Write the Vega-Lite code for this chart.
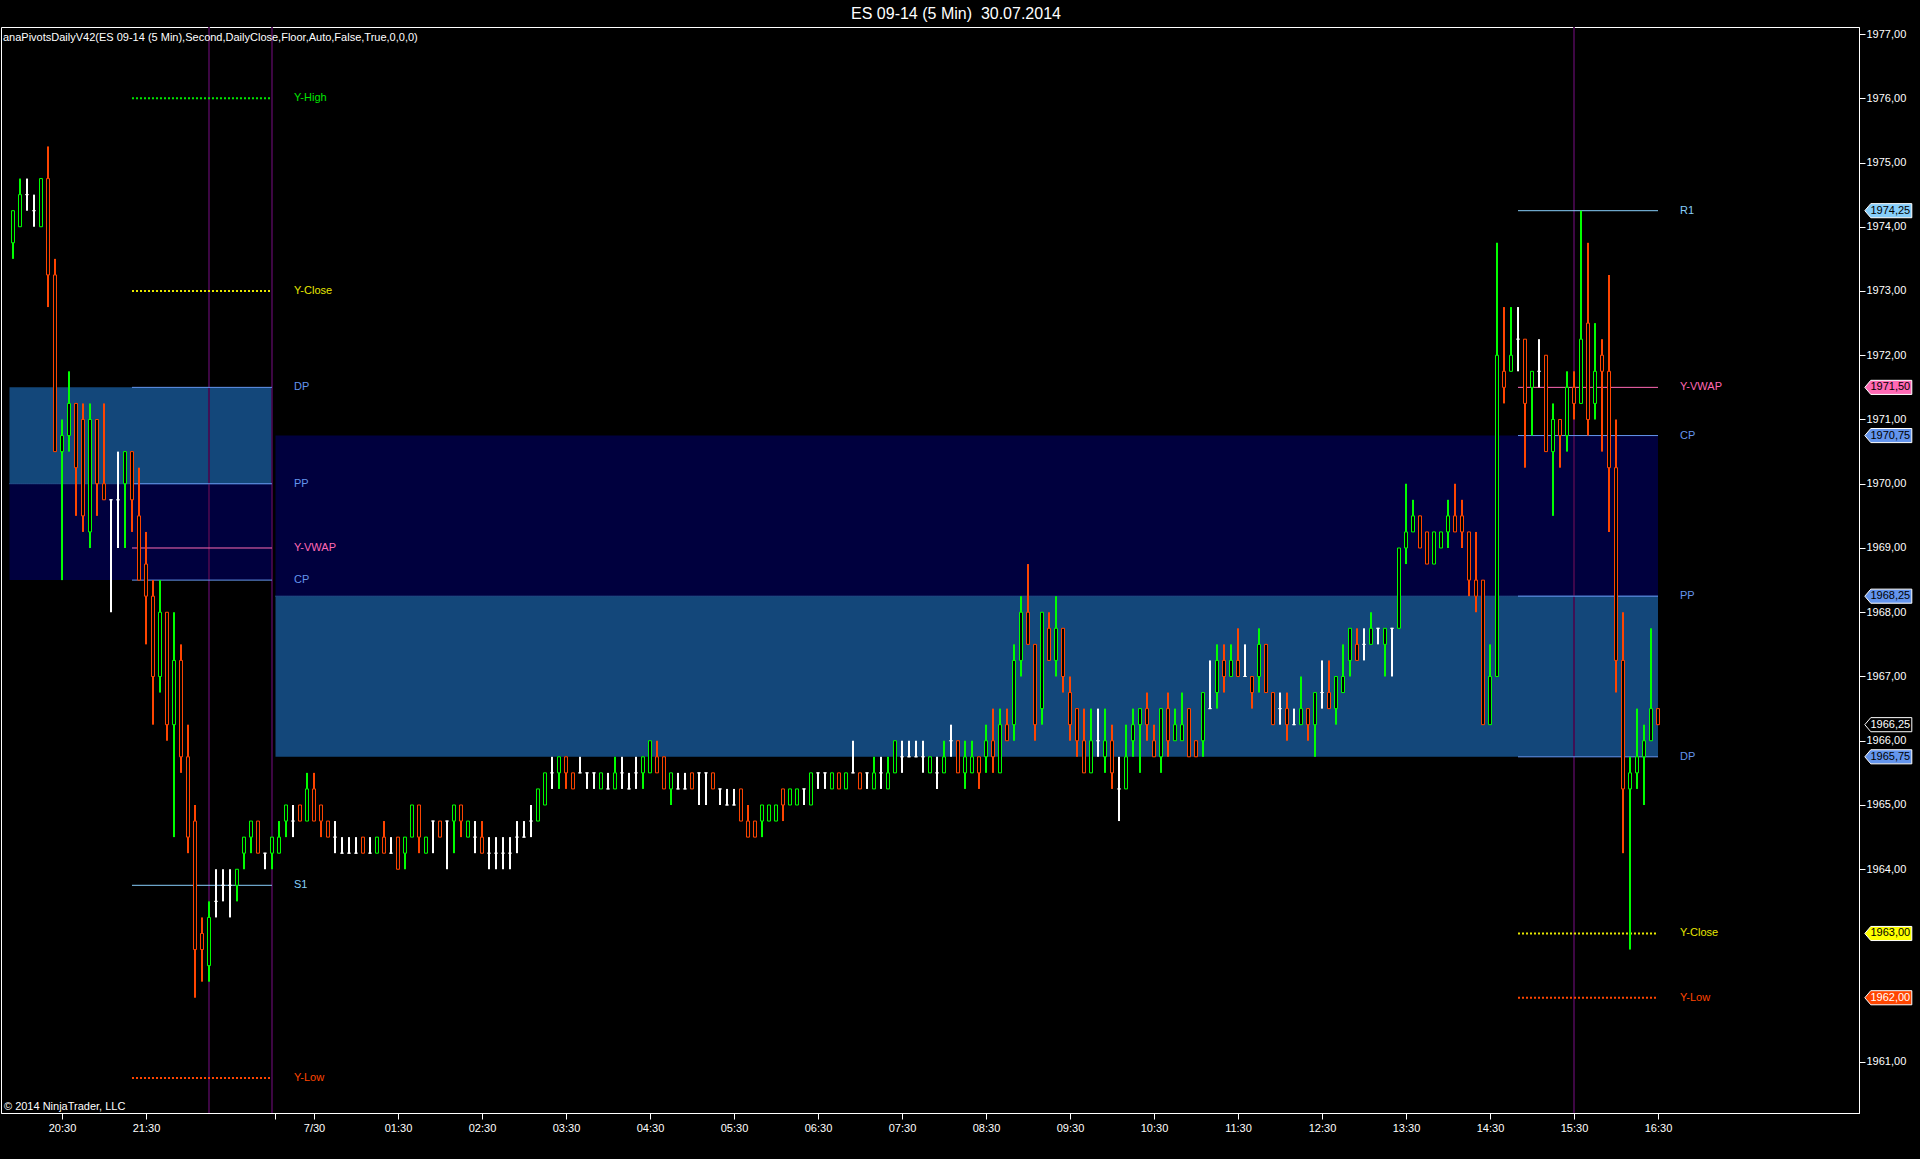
{
  "$schema": "https://vega.github.io/schema/vega-lite/v6.json",
  "width": 1858,
  "height": 1086,
  "autosize": {"type": "none"},
  "padding": {"left": 1, "top": 27, "right": 61, "bottom": 46},
  "background": "#000000",
  "title": {"text": "ES 09-14 (5 Min) \u00a030.07.2014", "color": "#FFFFFF", "font": "Liberation Sans", "fontSize": 16, "fontWeight": "normal", "anchor": "middle", "offset": 4, "dx": 26},
  "config": {
    "view": {"stroke": "#FFFFFF", "strokeWidth": 1, "fill": "#000000"},
    "scale": {"continuousPadding": 0},
    "axis": {"grid": false, "domainColor": "#FFFFFF", "tickColor": "#FFFFFF", "labelColor": "#FFFFFF", "labelFont": "Liberation Sans", "labelFontSize": 11},
    "text": {"font": "Liberation Sans", "fontSize": 11}
  },
  "resolve": {"scale": {"color": "independent", "stroke": "independent", "fill": "independent"}},
  "datasets": {
    "sessions": [
      {"session": "7/29", "from": -7.5, "to": 30, "dp": 1971.5, "pp": 1970.0, "cp": 1968.5},
      {"session": "7/30", "from": 30.5, "to": 228, "dp": 1965.75, "pp": 1968.25, "cp": 1970.75}
    ],
    "markers": [{"time": "22:15", "i": 21}, {"time": "23:00", "i": 30}, {"time": "15:30", "i": 216}],
    "levels": [
      {"name": "Y-High", "price": 1976.0, "from": 10, "to": 30},
      {"name": "Y-Close", "price": 1973.0, "from": 10, "to": 30},
      {"name": "DP", "price": 1971.5, "from": 10, "to": 30},
      {"name": "PP", "price": 1970.0, "from": 10, "to": 30},
      {"name": "Y-VWAP", "price": 1969.0, "from": 10, "to": 30},
      {"name": "CP", "price": 1968.5, "from": 10, "to": 30},
      {"name": "S1", "price": 1963.75, "from": 10, "to": 30},
      {"name": "Y-Low", "price": 1960.75, "from": 10, "to": 30},
      {"name": "R1", "price": 1974.25, "from": 208, "to": 228},
      {"name": "Y-VWAP", "price": 1971.5, "from": 208, "to": 228},
      {"name": "CP", "price": 1970.75, "from": 208, "to": 228},
      {"name": "PP", "price": 1968.25, "from": 208, "to": 228},
      {"name": "DP", "price": 1965.75, "from": 208, "to": 228},
      {"name": "Y-Close", "price": 1963.0, "from": 208, "to": 228},
      {"name": "Y-Low", "price": 1962.0, "from": 208, "to": 228}
    ],
    "tags": [
      {"tag": "R1", "price": 1974.25},
      {"tag": "Y-VWAP", "price": 1971.5},
      {"tag": "CP", "price": 1970.75},
      {"tag": "PP", "price": 1968.25},
      {"tag": "Last", "price": 1966.25},
      {"tag": "DP", "price": 1965.75},
      {"tag": "Y-Close", "price": 1963.0},
      {"tag": "Y-Low", "price": 1962.0}
    ],
    "bars": [
      {"i": -7, "o": 1973.75, "h": 1974.25, "l": 1973.5, "c": 1974.25},
      {"i": -6, "o": 1974.0, "h": 1974.75, "l": 1974.0, "c": 1974.5},
      {"i": -5, "o": 1974.5, "h": 1974.75, "l": 1974.25, "c": 1974.5},
      {"i": -4, "o": 1974.25, "h": 1974.5, "l": 1974.0, "c": 1974.25},
      {"i": -3, "o": 1974.0, "h": 1974.75, "l": 1974.0, "c": 1974.75},
      {"i": -2, "o": 1974.75, "h": 1975.25, "l": 1972.75, "c": 1973.25},
      {"i": -1, "o": 1973.25, "h": 1973.5, "l": 1970.5, "c": 1970.5},
      {"i": 0, "o": 1970.5, "h": 1971.0, "l": 1968.5, "c": 1970.75},
      {"i": 1, "o": 1970.75, "h": 1971.75, "l": 1970.5, "c": 1971.25},
      {"i": 2, "o": 1971.25, "h": 1971.25, "l": 1969.5, "c": 1970.25},
      {"i": 3, "o": 1971.0, "h": 1971.25, "l": 1969.25, "c": 1969.5},
      {"i": 4, "o": 1969.25, "h": 1971.25, "l": 1969.0, "c": 1971.0},
      {"i": 5, "o": 1971.0, "h": 1971.0, "l": 1969.5, "c": 1970.0},
      {"i": 6, "o": 1970.0, "h": 1971.25, "l": 1969.75, "c": 1969.75},
      {"i": 7, "o": 1969.75, "h": 1969.75, "l": 1968.0, "c": 1969.75},
      {"i": 8, "o": 1969.75, "h": 1970.5, "l": 1969.0, "c": 1969.75},
      {"i": 9, "o": 1970.0, "h": 1970.5, "l": 1969.0, "c": 1970.5},
      {"i": 10, "o": 1970.5, "h": 1970.5, "l": 1969.25, "c": 1969.75},
      {"i": 11, "o": 1969.5, "h": 1970.25, "l": 1968.5, "c": 1968.5},
      {"i": 12, "o": 1968.75, "h": 1969.25, "l": 1967.5, "c": 1968.25},
      {"i": 13, "o": 1968.25, "h": 1968.5, "l": 1966.25, "c": 1967.0},
      {"i": 14, "o": 1967.0, "h": 1968.5, "l": 1966.75, "c": 1968.0},
      {"i": 15, "o": 1968.0, "h": 1968.0, "l": 1966.0, "c": 1966.25},
      {"i": 16, "o": 1966.25, "h": 1968.0, "l": 1964.5, "c": 1967.25},
      {"i": 17, "o": 1967.25, "h": 1967.5, "l": 1965.5, "c": 1965.75},
      {"i": 18, "o": 1965.75, "h": 1966.25, "l": 1964.25, "c": 1964.5},
      {"i": 19, "o": 1964.75, "h": 1965.0, "l": 1962.0, "c": 1962.75},
      {"i": 20, "o": 1963.0, "h": 1963.25, "l": 1962.25, "c": 1962.75},
      {"i": 21, "o": 1962.5, "h": 1963.5, "l": 1962.25, "c": 1963.25},
      {"i": 22, "o": 1963.5, "h": 1964.0, "l": 1963.25, "c": 1963.5},
      {"i": 23, "o": 1963.75, "h": 1964.0, "l": 1963.5, "c": 1963.75},
      {"i": 24, "o": 1963.75, "h": 1964.0, "l": 1963.25, "c": 1963.75},
      {"i": 25, "o": 1963.75, "h": 1964.0, "l": 1963.5, "c": 1964.0},
      {"i": 26, "o": 1964.25, "h": 1964.5, "l": 1964.0, "c": 1964.5},
      {"i": 27, "o": 1964.5, "h": 1964.75, "l": 1964.25, "c": 1964.75},
      {"i": 28, "o": 1964.75, "h": 1964.75, "l": 1964.25, "c": 1964.25},
      {"i": 29, "o": 1964.25, "h": 1964.25, "l": 1964.0, "c": 1964.25},
      {"i": 30, "o": 1964.25, "h": 1964.5, "l": 1964.0, "c": 1964.5},
      {"i": 31, "o": 1964.25, "h": 1964.75, "l": 1964.25, "c": 1964.5},
      {"i": 32, "o": 1964.75, "h": 1965.0, "l": 1964.5, "c": 1965.0},
      {"i": 33, "o": 1964.75, "h": 1965.0, "l": 1964.5, "c": 1964.75},
      {"i": 34, "o": 1965.0, "h": 1965.0, "l": 1964.75, "c": 1964.75},
      {"i": 35, "o": 1964.75, "h": 1965.5, "l": 1964.75, "c": 1965.25},
      {"i": 36, "o": 1965.25, "h": 1965.5, "l": 1964.75, "c": 1964.75},
      {"i": 37, "o": 1965.0, "h": 1965.0, "l": 1964.5, "c": 1964.75},
      {"i": 38, "o": 1964.75, "h": 1964.75, "l": 1964.5, "c": 1964.5},
      {"i": 39, "o": 1964.5, "h": 1964.75, "l": 1964.25, "c": 1964.5},
      {"i": 40, "o": 1964.25, "h": 1964.5, "l": 1964.25, "c": 1964.25},
      {"i": 41, "o": 1964.25, "h": 1964.5, "l": 1964.25, "c": 1964.25},
      {"i": 42, "o": 1964.25, "h": 1964.5, "l": 1964.25, "c": 1964.25},
      {"i": 43, "o": 1964.5, "h": 1964.5, "l": 1964.25, "c": 1964.25},
      {"i": 44, "o": 1964.25, "h": 1964.5, "l": 1964.25, "c": 1964.25},
      {"i": 45, "o": 1964.25, "h": 1964.5, "l": 1964.25, "c": 1964.5},
      {"i": 46, "o": 1964.5, "h": 1964.75, "l": 1964.25, "c": 1964.25},
      {"i": 47, "o": 1964.25, "h": 1964.5, "l": 1964.25, "c": 1964.25},
      {"i": 48, "o": 1964.5, "h": 1964.5, "l": 1964.0, "c": 1964.0},
      {"i": 49, "o": 1964.25, "h": 1964.5, "l": 1964.0, "c": 1964.5},
      {"i": 50, "o": 1964.5, "h": 1965.0, "l": 1964.5, "c": 1965.0},
      {"i": 51, "o": 1965.0, "h": 1965.0, "l": 1964.25, "c": 1964.5},
      {"i": 52, "o": 1964.25, "h": 1964.5, "l": 1964.25, "c": 1964.5},
      {"i": 53, "o": 1964.75, "h": 1964.75, "l": 1964.25, "c": 1964.75},
      {"i": 54, "o": 1964.75, "h": 1964.75, "l": 1964.5, "c": 1964.5},
      {"i": 55, "o": 1964.75, "h": 1964.75, "l": 1964.0, "c": 1964.75},
      {"i": 56, "o": 1964.75, "h": 1965.0, "l": 1964.25, "c": 1965.0},
      {"i": 57, "o": 1965.0, "h": 1965.0, "l": 1964.5, "c": 1964.75},
      {"i": 58, "o": 1964.5, "h": 1964.75, "l": 1964.5, "c": 1964.75},
      {"i": 59, "o": 1964.5, "h": 1964.75, "l": 1964.25, "c": 1964.5},
      {"i": 60, "o": 1964.5, "h": 1964.75, "l": 1964.25, "c": 1964.25},
      {"i": 61, "o": 1964.25, "h": 1964.5, "l": 1964.0, "c": 1964.25},
      {"i": 62, "o": 1964.25, "h": 1964.5, "l": 1964.0, "c": 1964.25},
      {"i": 63, "o": 1964.25, "h": 1964.5, "l": 1964.0, "c": 1964.25},
      {"i": 64, "o": 1964.25, "h": 1964.5, "l": 1964.0, "c": 1964.25},
      {"i": 65, "o": 1964.5, "h": 1964.75, "l": 1964.25, "c": 1964.5},
      {"i": 66, "o": 1964.5, "h": 1964.75, "l": 1964.5, "c": 1964.5},
      {"i": 67, "o": 1964.75, "h": 1965.0, "l": 1964.5, "c": 1964.75},
      {"i": 68, "o": 1964.75, "h": 1965.25, "l": 1964.75, "c": 1965.25},
      {"i": 69, "o": 1965.0, "h": 1965.5, "l": 1965.0, "c": 1965.5},
      {"i": 70, "o": 1965.5, "h": 1965.75, "l": 1965.25, "c": 1965.5},
      {"i": 71, "o": 1965.5, "h": 1965.75, "l": 1965.25, "c": 1965.75},
      {"i": 72, "o": 1965.75, "h": 1965.75, "l": 1965.25, "c": 1965.5},
      {"i": 73, "o": 1965.5, "h": 1965.5, "l": 1965.25, "c": 1965.25},
      {"i": 74, "o": 1965.5, "h": 1965.75, "l": 1965.5, "c": 1965.5},
      {"i": 75, "o": 1965.5, "h": 1965.5, "l": 1965.25, "c": 1965.5},
      {"i": 76, "o": 1965.5, "h": 1965.5, "l": 1965.25, "c": 1965.5},
      {"i": 77, "o": 1965.25, "h": 1965.5, "l": 1965.25, "c": 1965.5},
      {"i": 78, "o": 1965.25, "h": 1965.5, "l": 1965.25, "c": 1965.25},
      {"i": 79, "o": 1965.25, "h": 1965.75, "l": 1965.25, "c": 1965.5},
      {"i": 80, "o": 1965.5, "h": 1965.75, "l": 1965.25, "c": 1965.5},
      {"i": 81, "o": 1965.25, "h": 1965.5, "l": 1965.25, "c": 1965.25},
      {"i": 82, "o": 1965.5, "h": 1965.75, "l": 1965.25, "c": 1965.5},
      {"i": 83, "o": 1965.5, "h": 1965.75, "l": 1965.25, "c": 1965.75},
      {"i": 84, "o": 1965.5, "h": 1966.0, "l": 1965.5, "c": 1966.0},
      {"i": 85, "o": 1965.75, "h": 1966.0, "l": 1965.5, "c": 1965.5},
      {"i": 86, "o": 1965.75, "h": 1965.75, "l": 1965.25, "c": 1965.25},
      {"i": 87, "o": 1965.25, "h": 1965.5, "l": 1965.0, "c": 1965.5},
      {"i": 88, "o": 1965.25, "h": 1965.5, "l": 1965.25, "c": 1965.25},
      {"i": 89, "o": 1965.25, "h": 1965.5, "l": 1965.25, "c": 1965.25},
      {"i": 90, "o": 1965.5, "h": 1965.5, "l": 1965.25, "c": 1965.25},
      {"i": 91, "o": 1965.5, "h": 1965.5, "l": 1965.0, "c": 1965.5},
      {"i": 92, "o": 1965.5, "h": 1965.5, "l": 1965.0, "c": 1965.5},
      {"i": 93, "o": 1965.5, "h": 1965.5, "l": 1965.25, "c": 1965.25},
      {"i": 94, "o": 1965.25, "h": 1965.25, "l": 1965.0, "c": 1965.25},
      {"i": 95, "o": 1965.0, "h": 1965.25, "l": 1965.0, "c": 1965.0},
      {"i": 96, "o": 1965.0, "h": 1965.25, "l": 1965.0, "c": 1965.0},
      {"i": 97, "o": 1965.25, "h": 1965.25, "l": 1964.75, "c": 1964.75},
      {"i": 98, "o": 1964.75, "h": 1965.0, "l": 1964.5, "c": 1964.5},
      {"i": 99, "o": 1964.75, "h": 1964.75, "l": 1964.5, "c": 1964.5},
      {"i": 100, "o": 1964.75, "h": 1965.0, "l": 1964.5, "c": 1965.0},
      {"i": 101, "o": 1964.75, "h": 1965.0, "l": 1964.75, "c": 1965.0},
      {"i": 102, "o": 1964.75, "h": 1965.0, "l": 1964.75, "c": 1965.0},
      {"i": 103, "o": 1965.25, "h": 1965.25, "l": 1964.75, "c": 1965.0},
      {"i": 104, "o": 1965.0, "h": 1965.25, "l": 1965.0, "c": 1965.25},
      {"i": 105, "o": 1965.0, "h": 1965.25, "l": 1965.0, "c": 1965.25},
      {"i": 106, "o": 1965.25, "h": 1965.25, "l": 1965.0, "c": 1965.25},
      {"i": 107, "o": 1965.0, "h": 1965.5, "l": 1965.0, "c": 1965.5},
      {"i": 108, "o": 1965.5, "h": 1965.5, "l": 1965.25, "c": 1965.5},
      {"i": 109, "o": 1965.5, "h": 1965.5, "l": 1965.25, "c": 1965.5},
      {"i": 110, "o": 1965.25, "h": 1965.5, "l": 1965.25, "c": 1965.5},
      {"i": 111, "o": 1965.5, "h": 1965.5, "l": 1965.25, "c": 1965.25},
      {"i": 112, "o": 1965.25, "h": 1965.5, "l": 1965.25, "c": 1965.5},
      {"i": 113, "o": 1965.5, "h": 1966.0, "l": 1965.5, "c": 1965.5},
      {"i": 114, "o": 1965.5, "h": 1965.5, "l": 1965.25, "c": 1965.25},
      {"i": 115, "o": 1965.5, "h": 1965.5, "l": 1965.25, "c": 1965.5},
      {"i": 116, "o": 1965.25, "h": 1965.75, "l": 1965.25, "c": 1965.5},
      {"i": 117, "o": 1965.5, "h": 1965.75, "l": 1965.25, "c": 1965.5},
      {"i": 118, "o": 1965.25, "h": 1965.75, "l": 1965.25, "c": 1965.5},
      {"i": 119, "o": 1965.5, "h": 1966.0, "l": 1965.5, "c": 1966.0},
      {"i": 120, "o": 1965.75, "h": 1966.0, "l": 1965.5, "c": 1965.75},
      {"i": 121, "o": 1965.75, "h": 1966.0, "l": 1965.75, "c": 1965.75},
      {"i": 122, "o": 1965.75, "h": 1966.0, "l": 1965.75, "c": 1965.75},
      {"i": 123, "o": 1965.75, "h": 1966.0, "l": 1965.5, "c": 1965.75},
      {"i": 124, "o": 1965.5, "h": 1965.75, "l": 1965.5, "c": 1965.75},
      {"i": 125, "o": 1965.5, "h": 1965.75, "l": 1965.25, "c": 1965.5},
      {"i": 126, "o": 1965.5, "h": 1966.0, "l": 1965.5, "c": 1965.75},
      {"i": 127, "o": 1966.0, "h": 1966.25, "l": 1965.75, "c": 1966.0},
      {"i": 128, "o": 1966.0, "h": 1966.0, "l": 1965.5, "c": 1965.5},
      {"i": 129, "o": 1965.5, "h": 1966.0, "l": 1965.25, "c": 1965.75},
      {"i": 130, "o": 1965.5, "h": 1966.0, "l": 1965.5, "c": 1965.75},
      {"i": 131, "o": 1965.75, "h": 1965.75, "l": 1965.25, "c": 1965.5},
      {"i": 132, "o": 1965.75, "h": 1966.25, "l": 1965.5, "c": 1966.0},
      {"i": 133, "o": 1966.0, "h": 1966.5, "l": 1965.5, "c": 1965.75},
      {"i": 134, "o": 1965.5, "h": 1966.5, "l": 1965.5, "c": 1966.25},
      {"i": 135, "o": 1966.25, "h": 1966.5, "l": 1966.0, "c": 1966.0},
      {"i": 136, "o": 1966.25, "h": 1967.5, "l": 1966.0, "c": 1967.25},
      {"i": 137, "o": 1967.25, "h": 1968.25, "l": 1967.0, "c": 1968.0},
      {"i": 138, "o": 1968.0, "h": 1968.75, "l": 1967.5, "c": 1967.5},
      {"i": 139, "o": 1967.5, "h": 1967.5, "l": 1966.0, "c": 1966.25},
      {"i": 140, "o": 1966.5, "h": 1968.0, "l": 1966.25, "c": 1968.0},
      {"i": 141, "o": 1967.75, "h": 1968.0, "l": 1967.25, "c": 1967.25},
      {"i": 142, "o": 1967.25, "h": 1968.25, "l": 1967.0, "c": 1967.75},
      {"i": 143, "o": 1967.75, "h": 1967.75, "l": 1966.75, "c": 1967.0},
      {"i": 144, "o": 1966.75, "h": 1967.0, "l": 1966.0, "c": 1966.25},
      {"i": 145, "o": 1966.5, "h": 1966.5, "l": 1965.75, "c": 1966.0},
      {"i": 146, "o": 1966.0, "h": 1966.5, "l": 1965.5, "c": 1965.5},
      {"i": 147, "o": 1965.5, "h": 1966.5, "l": 1965.5, "c": 1966.0},
      {"i": 148, "o": 1966.0, "h": 1966.5, "l": 1965.75, "c": 1966.0},
      {"i": 149, "o": 1965.75, "h": 1966.5, "l": 1965.5, "c": 1966.0},
      {"i": 150, "o": 1966.0, "h": 1966.25, "l": 1965.25, "c": 1965.5},
      {"i": 151, "o": 1965.25, "h": 1965.75, "l": 1964.75, "c": 1965.25},
      {"i": 152, "o": 1965.25, "h": 1966.25, "l": 1965.25, "c": 1965.75},
      {"i": 153, "o": 1966.0, "h": 1966.5, "l": 1965.75, "c": 1966.25},
      {"i": 154, "o": 1966.25, "h": 1966.5, "l": 1965.5, "c": 1966.5},
      {"i": 155, "o": 1966.5, "h": 1966.75, "l": 1966.0, "c": 1966.25},
      {"i": 156, "o": 1966.0, "h": 1966.25, "l": 1965.75, "c": 1965.75},
      {"i": 157, "o": 1965.75, "h": 1966.5, "l": 1965.5, "c": 1966.5},
      {"i": 158, "o": 1966.5, "h": 1966.75, "l": 1965.75, "c": 1966.0},
      {"i": 159, "o": 1966.0, "h": 1966.5, "l": 1966.0, "c": 1966.25},
      {"i": 160, "o": 1966.0, "h": 1966.75, "l": 1966.0, "c": 1966.25},
      {"i": 161, "o": 1966.5, "h": 1966.5, "l": 1965.75, "c": 1965.75},
      {"i": 162, "o": 1966.0, "h": 1966.0, "l": 1965.75, "c": 1965.75},
      {"i": 163, "o": 1966.0, "h": 1966.75, "l": 1965.75, "c": 1966.75},
      {"i": 164, "o": 1966.5, "h": 1967.25, "l": 1966.5, "c": 1966.5},
      {"i": 165, "o": 1966.75, "h": 1967.5, "l": 1966.5, "c": 1967.25},
      {"i": 166, "o": 1967.25, "h": 1967.5, "l": 1966.75, "c": 1967.0},
      {"i": 167, "o": 1967.0, "h": 1967.5, "l": 1967.0, "c": 1967.25},
      {"i": 168, "o": 1967.25, "h": 1967.75, "l": 1967.0, "c": 1967.0},
      {"i": 169, "o": 1967.0, "h": 1967.5, "l": 1967.0, "c": 1967.0},
      {"i": 170, "o": 1967.0, "h": 1967.0, "l": 1966.5, "c": 1966.75},
      {"i": 171, "o": 1967.0, "h": 1967.75, "l": 1966.75, "c": 1967.5},
      {"i": 172, "o": 1967.5, "h": 1967.5, "l": 1966.75, "c": 1966.75},
      {"i": 173, "o": 1966.75, "h": 1966.75, "l": 1966.25, "c": 1966.25},
      {"i": 174, "o": 1966.5, "h": 1966.75, "l": 1966.25, "c": 1966.5},
      {"i": 175, "o": 1966.5, "h": 1966.75, "l": 1966.0, "c": 1966.25},
      {"i": 176, "o": 1966.25, "h": 1966.5, "l": 1966.25, "c": 1966.25},
      {"i": 177, "o": 1966.25, "h": 1967.0, "l": 1966.25, "c": 1966.5},
      {"i": 178, "o": 1966.5, "h": 1966.5, "l": 1966.0, "c": 1966.25},
      {"i": 179, "o": 1966.25, "h": 1966.75, "l": 1965.75, "c": 1966.75},
      {"i": 180, "o": 1966.75, "h": 1967.25, "l": 1966.5, "c": 1966.75},
      {"i": 181, "o": 1966.75, "h": 1967.25, "l": 1966.5, "c": 1966.5},
      {"i": 182, "o": 1966.5, "h": 1967.0, "l": 1966.25, "c": 1967.0},
      {"i": 183, "o": 1966.75, "h": 1967.5, "l": 1966.75, "c": 1967.0},
      {"i": 184, "o": 1967.25, "h": 1967.75, "l": 1967.0, "c": 1967.75},
      {"i": 185, "o": 1967.5, "h": 1967.75, "l": 1967.25, "c": 1967.25},
      {"i": 186, "o": 1967.5, "h": 1967.75, "l": 1967.25, "c": 1967.5},
      {"i": 187, "o": 1967.5, "h": 1968.0, "l": 1967.5, "c": 1967.75},
      {"i": 188, "o": 1967.75, "h": 1967.75, "l": 1967.5, "c": 1967.75},
      {"i": 189, "o": 1967.5, "h": 1967.75, "l": 1967.0, "c": 1967.75},
      {"i": 190, "o": 1967.75, "h": 1967.75, "l": 1967.0, "c": 1967.75},
      {"i": 191, "o": 1967.75, "h": 1969.0, "l": 1967.75, "c": 1969.0},
      {"i": 192, "o": 1969.0, "h": 1970.0, "l": 1968.75, "c": 1969.25},
      {"i": 193, "o": 1969.25, "h": 1969.75, "l": 1969.25, "c": 1969.5},
      {"i": 194, "o": 1969.5, "h": 1969.5, "l": 1969.0, "c": 1969.0},
      {"i": 195, "o": 1969.25, "h": 1969.25, "l": 1968.75, "c": 1968.75},
      {"i": 196, "o": 1968.75, "h": 1969.25, "l": 1968.75, "c": 1969.25},
      {"i": 197, "o": 1969.0, "h": 1969.25, "l": 1969.0, "c": 1969.25},
      {"i": 198, "o": 1969.25, "h": 1969.75, "l": 1969.0, "c": 1969.5},
      {"i": 199, "o": 1969.5, "h": 1970.0, "l": 1969.25, "c": 1969.25},
      {"i": 200, "o": 1969.5, "h": 1969.75, "l": 1969.0, "c": 1969.25},
      {"i": 201, "o": 1969.25, "h": 1969.25, "l": 1968.25, "c": 1968.5},
      {"i": 202, "o": 1968.5, "h": 1969.25, "l": 1968.0, "c": 1968.25},
      {"i": 203, "o": 1968.5, "h": 1968.5, "l": 1966.25, "c": 1966.25},
      {"i": 204, "o": 1966.25, "h": 1967.5, "l": 1966.25, "c": 1967.0},
      {"i": 205, "o": 1967.0, "h": 1973.75, "l": 1967.0, "c": 1972.0},
      {"i": 206, "o": 1971.75, "h": 1972.75, "l": 1971.25, "c": 1971.5},
      {"i": 207, "o": 1971.75, "h": 1972.75, "l": 1971.75, "c": 1972.0},
      {"i": 208, "o": 1972.25, "h": 1972.75, "l": 1971.75, "c": 1972.25},
      {"i": 209, "o": 1972.25, "h": 1972.25, "l": 1970.25, "c": 1971.25},
      {"i": 210, "o": 1971.5, "h": 1971.75, "l": 1970.75, "c": 1971.75},
      {"i": 211, "o": 1971.75, "h": 1972.25, "l": 1971.5, "c": 1971.75},
      {"i": 212, "o": 1972.0, "h": 1972.0, "l": 1970.5, "c": 1970.5},
      {"i": 213, "o": 1970.5, "h": 1971.25, "l": 1969.5, "c": 1971.0},
      {"i": 214, "o": 1971.0, "h": 1971.0, "l": 1970.25, "c": 1970.75},
      {"i": 215, "o": 1970.75, "h": 1971.75, "l": 1970.5, "c": 1971.5},
      {"i": 216, "o": 1971.5, "h": 1971.75, "l": 1971.0, "c": 1971.25},
      {"i": 217, "o": 1971.25, "h": 1974.25, "l": 1971.25, "c": 1972.25},
      {"i": 218, "o": 1972.5, "h": 1973.75, "l": 1970.75, "c": 1971.0},
      {"i": 219, "o": 1971.25, "h": 1972.5, "l": 1971.0, "c": 1971.75},
      {"i": 220, "o": 1972.0, "h": 1972.25, "l": 1970.5, "c": 1971.75},
      {"i": 221, "o": 1971.75, "h": 1973.25, "l": 1969.25, "c": 1970.25},
      {"i": 222, "o": 1970.25, "h": 1971.0, "l": 1966.75, "c": 1967.25},
      {"i": 223, "o": 1967.25, "h": 1968.0, "l": 1964.25, "c": 1965.25},
      {"i": 224, "o": 1965.25, "h": 1965.75, "l": 1962.75, "c": 1965.5},
      {"i": 225, "o": 1965.5, "h": 1966.5, "l": 1965.25, "c": 1965.75},
      {"i": 226, "o": 1965.75, "h": 1966.25, "l": 1965.0, "c": 1966.0},
      {"i": 227, "o": 1966.0, "h": 1967.75, "l": 1966.0, "c": 1966.5},
      {"i": 228, "o": 1966.5, "h": 1966.5, "l": 1966.25, "c": 1966.25}
    ]
  },
  "layer": [
    {
      "data": {"name": "sessions"},
      "mark": {"type": "rect", "color": "#13477A"},
      "encoding": {
        "x": {"field": "from", "type": "quantitative", "scale": {"domain": [-8.714, 256.714], "nice": false, "zero": false, "padding": 0},
          "axis": {"orient": "bottom", "values": [0, 12, 30.5, 36, 48, 60, 72, 84, 96, 108, 120, 132, 144, 156, 168, 180, 192, 204, 216, 228],
            "labelExpr": "datum.value == 30.5 ? '' : datum.value == 36 ? '7/30' : datum.value == 0 ? '20:30' : datum.value == 12 ? '21:30' : (((datum.value - 36) / 12 < 10 ? '0' : '') + ((datum.value - 36) / 12) + ':30')",
            "tickSize": 6, "labelPadding": 3, "labelOverlap": false, "labelFlush": false, "labelBound": false, "title": null}},
        "x2": {"field": "to"},
        "y": {"field": "dp", "type": "quantitative", "scale": {"domain": [1960.206, 1977.109], "nice": false, "zero": false},
          "axis": {"orient": "right", "values": [1961, 1964, 1965, 1966, 1967, 1968, 1969, 1970, 1971, 1972, 1973, 1974, 1975, 1976, 1977],
            "labelExpr": "replace(format(datum.value, '.2f'), '.', ',')", "tickSize": 6, "labelPadding": 1, "labelOverlap": false, "labelFlush": false, "labelBound": false, "title": null}},
        "y2": {"field": "pp"}
      }
    },
    {
      "data": {"name": "sessions"},
      "mark": {"type": "rect", "color": "#00003E"},
      "encoding": {
        "x": {"field": "from", "type": "quantitative"},
        "x2": {"field": "to"},
        "y": {"field": "pp", "type": "quantitative"},
        "y2": {"field": "cp"}
      }
    },
    {
      "data": {"name": "sessions"},
      "mark": {"type": "rule", "color": "#3F86D0", "strokeWidth": 1, "strokeDash": [1, 1]},
      "encoding": {
        "x": {"field": "from", "type": "quantitative"},
        "x2": {"field": "to"},
        "y": {"field": "pp", "type": "quantitative"}
      }
    },
    {
      "data": {"name": "markers"},
      "mark": {"type": "rule", "color": "#48084F", "strokeWidth": 2, "opacity": 0.85},
      "encoding": {
        "x": {"field": "i", "type": "quantitative"}
      }
    },
    {
      "data": {"name": "levels"},
      "transform": [{"filter": "datum.name != 'Y-High' && datum.name != 'Y-Close' && datum.name != 'Y-Low'"}],
      "mark": {"type": "rule", "strokeWidth": 1},
      "encoding": {
        "x": {"field": "from", "type": "quantitative"},
        "x2": {"field": "to"},
        "y": {"field": "price", "type": "quantitative"},
        "color": {"field": "name", "type": "nominal", "legend": null,
          "scale": {"domain": ["R1", "S1", "DP", "PP", "CP", "Y-VWAP"], "range": ["#87CEFA", "#87CEFA", "#6495ED", "#6495ED", "#6495ED", "#FF69B4"]}}
      }
    },
    {
      "data": {"name": "levels"},
      "transform": [{"filter": "datum.name == 'Y-High' || datum.name == 'Y-Close' || datum.name == 'Y-Low'"}],
      "mark": {"type": "rule", "strokeWidth": 2, "strokeDash": [2, 2]},
      "encoding": {
        "x": {"field": "from", "type": "quantitative"},
        "x2": {"field": "to"},
        "y": {"field": "price", "type": "quantitative"},
        "color": {"field": "name", "type": "nominal", "legend": null,
          "scale": {"domain": ["Y-High", "Y-Close", "Y-Low"], "range": ["#00E600", "#E6E600", "#FF4500"]}}
      }
    },
    {
      "data": {"name": "levels"},
      "mark": {"type": "text", "align": "left", "baseline": "middle", "dx": 22, "fontSize": 11},
      "encoding": {
        "x": {"field": "to", "type": "quantitative"},
        "y": {"field": "price", "type": "quantitative"},
        "text": {"field": "name"},
        "color": {"field": "name", "type": "nominal", "legend": null,
          "scale": {"domain": ["R1", "S1", "DP", "PP", "CP", "Y-VWAP", "Y-High", "Y-Close", "Y-Low"], "range": ["#87CEFA", "#87CEFA", "#6495ED", "#6495ED", "#6495ED", "#FF69B4", "#00E600", "#E6E600", "#FF4500"]}}
      }
    },
    {
      "data": {"name": "bars"},
      "transform": [{"calculate": "datum.c > datum.o ? 'up' : (datum.c < datum.o ? 'down' : 'flat')", "as": "dir"}],
      "mark": {"type": "rule", "strokeWidth": 2},
      "encoding": {
        "x": {"field": "i", "type": "quantitative"},
        "y": {"field": "l", "type": "quantitative"},
        "y2": {"field": "h"},
        "color": {"field": "dir", "type": "nominal", "legend": null,
          "scale": {"domain": ["up", "down", "flat"], "range": ["#00FF00", "#FF4500", "#FFFFFF"]}}
      }
    },
    {
      "data": {"name": "bars"},
      "transform": [{"calculate": "datum.c > datum.o ? 'up' : (datum.c < datum.o ? 'down' : 'flat')", "as": "dir"}],
      "mark": {"type": "bar", "width": 3, "orient": "vertical", "fill": "#000000", "strokeWidth": 1},
      "encoding": {
        "x": {"field": "i", "type": "quantitative"},
        "y": {"field": "o", "type": "quantitative"},
        "y2": {"field": "c"},
        "stroke": {"field": "dir", "type": "nominal", "legend": null,
          "scale": {"domain": ["up", "down", "flat"], "range": ["#00FF00", "#FF4500", "#FFFFFF"]}}
      }
    },
    {
      "data": {"name": "tags"},
      "mark": {"type": "point", "shape": "M-1,0L-0.745,-0.3L1,-0.3L1,0.3L-0.745,0.3Z", "size": 2209, "filled": true, "opacity": 1, "stroke": "#FFFFFF", "strokeWidth": 1, "clip": false},
      "encoding": {
        "x": {"datum": 260.9, "type": "quantitative"},
        "y": {"field": "price", "type": "quantitative"},
        "fill": {"field": "tag", "type": "nominal", "legend": null,
          "scale": {"domain": ["R1", "Y-VWAP", "CP", "PP", "Last", "DP", "Y-Close", "Y-Low"], "range": ["#87CEFA", "#FF69B4", "#6495ED", "#6495ED", "#000000", "#6495ED", "#FFFF00", "#FF4500"]}}
      }
    },
    {
      "data": {"name": "tags"},
      "transform": [{"calculate": "replace(format(datum.price, '.2f'), '.', ',')", "as": "label"}],
      "mark": {"type": "text", "align": "center", "baseline": "middle", "dx": 2, "fontSize": 11, "clip": false},
      "encoding": {
        "x": {"datum": 260.9, "type": "quantitative"},
        "y": {"field": "price", "type": "quantitative"},
        "text": {"field": "label"},
        "color": {"field": "tag", "type": "nominal", "legend": null,
          "scale": {"domain": ["R1", "Y-VWAP", "CP", "PP", "Last", "DP", "Y-Close", "Y-Low"], "range": ["#000000", "#000000", "#000000", "#000000", "#FFFFFF", "#000000", "#000000", "#FFFFFF"]}}
      }
    },
    {
      "data": {"values": [{"note": "indicator"}]},
      "mark": {"type": "text", "align": "left", "baseline": "middle", "color": "#FFFFFF", "fontSize": 11, "text": "anaPivotsDailyV42(ES 09-14 (5 Min),Second,DailyClose,Floor,Auto,False,True,0,0,0)"},
      "encoding": {
        "x": {"datum": -8.43, "type": "quantitative"},
        "y": {"datum": 1976.94, "type": "quantitative"}
      }
    },
    {
      "data": {"values": [{"note": "copyright"}]},
      "mark": {"type": "text", "align": "left", "baseline": "middle", "color": "#FFFFFF", "fontSize": 11, "text": "© 2014 NinjaTrader, LLC"},
      "encoding": {
        "x": {"datum": -8.29, "type": "quantitative"},
        "y": {"datum": 1960.3, "type": "quantitative"}
      }
    }
  ]
}
